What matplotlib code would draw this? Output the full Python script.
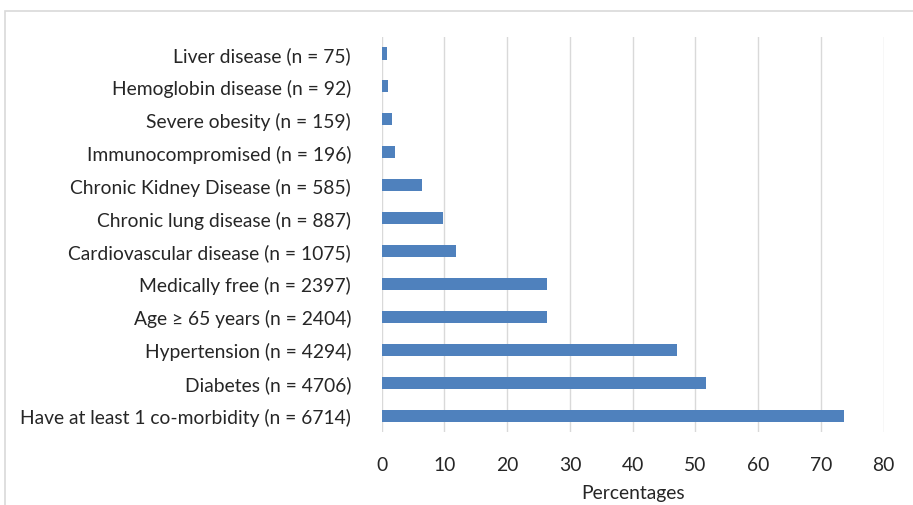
import matplotlib.pyplot as plt
from matplotlib.patches import Rectangle

# Prevalence of co-morbidities (% of patients), bottom to top
labels = [
    'Have at least 1 co-morbidity (n = 6714)',
    'Diabetes (n = 4706)',
    'Hypertension (n = 4294)',
    'Age \u2265 65 years (n = 2404)',
    'Medically free (n = 2397)',
    'Cardiovascular disease (n = 1075)',
    'Chronic lung disease (n = 887)',
    'Chronic Kidney Disease (n = 585)',
    'Immunocompromised (n = 196)',
    'Severe obesity (n = 159)',
    'Hemoglobin disease (n = 92)',
    'Liver disease (n = 75)',
]
percentages = [73.7, 51.7, 47.1, 26.4, 26.3, 11.8, 9.7, 6.4, 2.2, 1.7, 1.0, 0.8]
ticks = [0, 10, 20, 30, 40, 50, 60, 70, 80]

plt.rcParams['font.family'] = ['Lato', 'DejaVu Sans']

fig = plt.figure(figsize=(9.13, 5.06), dpi=100)
ax = fig.add_axes([0.418, 0.144, 0.550, 0.781])

pos = range(len(labels))
ax.barh(pos, percentages, height=0.37, color='#4f81bd', zorder=3)
ax.set_yticks(list(pos))
ax.set_yticklabels(labels, fontsize=13.9, color='#262626')
ax.set_ylim(-0.5, len(labels) - 0.5)

ax.set_xlim(0, 80)
ax.set_xticks(ticks)
ax.set_xticklabels([str(t) for t in ticks], fontsize=13.9, color='#262626')
ax.xaxis.grid(True, color='#d9d9d9', linewidth=1, zorder=0)
ax.tick_params(length=0)
ax.tick_params(axis='x', pad=17)
ax.tick_params(axis='y', pad=22)
for s in ax.spines.values():
    s.set_visible(False)
ax.set_xlabel('Percentages', fontsize=13.9, color='#262626', labelpad=8)

# chart area border
fig.patches.append(Rectangle((5 / 913, -0.1), 1.2, 1 - 12 / 506 + 0.1,
                             transform=fig.transFigure, fill=False,
                             edgecolor='#d9d9d9', linewidth=1.2))

fig.savefig('out.png', dpi=100)
